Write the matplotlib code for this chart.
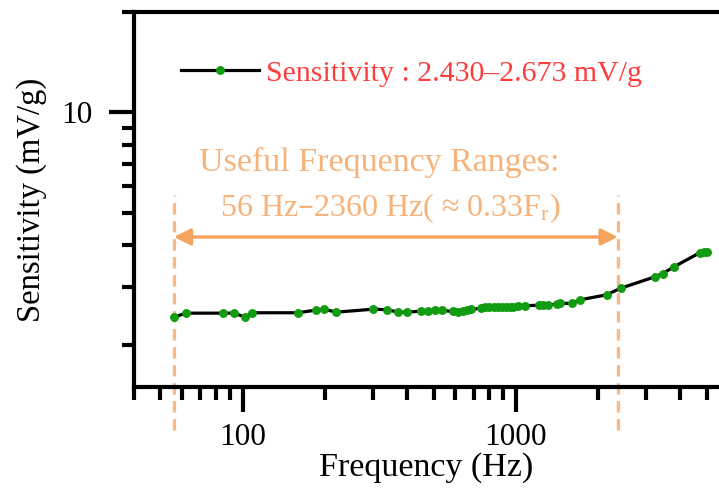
import matplotlib.pyplot as plt
from matplotlib.ticker import LogLocator, NullFormatter

plt.rcParams['font.family'] = ['Liberation Serif', 'DejaVu Serif']

# measured sensitivity vs. excitation frequency
freq = [56, 62, 85, 93, 102, 108, 159, 185, 198, 220, 301, 338, 371, 398,
        450, 477, 505, 538, 587, 612, 639, 663, 687, 743, 770, 800, 831,
        863, 889, 919, 953, 979, 1015, 1079, 1212, 1259, 1313, 1410, 1450,
        1598, 1716, 2148, 2418, 3229, 3446, 3792, 4721, 4883, 4995]
sens = [2.430, 2.498, 2.498, 2.498, 2.430, 2.505, 2.505, 2.550, 2.568,
        2.515, 2.568, 2.557, 2.515, 2.515, 2.533, 2.533, 2.545, 2.545,
        2.527, 2.515, 2.527, 2.545, 2.562, 2.585, 2.598, 2.610, 2.610,
        2.610, 2.610, 2.610, 2.610, 2.610, 2.616, 2.628, 2.639, 2.639,
        2.639, 2.660, 2.673, 2.673, 2.739, 2.835, 2.967, 3.211, 3.285,
        3.440, 3.797, 3.805, 3.805]

f_low, f_high = 56, 2360
series_label = 'Sensitivity : 2.430\u20132.673 mV/g'
range_title = 'Useful Frequency Ranges:'
range_text = '56 Hz\u20132360 Hz( \u2248 0.33$\\mathregular{F_r}$)'

orange = '#F5A35C'
orange_text = '#F7B27A'
orange_dash = '#F9B888'
red = '#FF3C3C'
green = '#129C12'

fig = plt.figure(figsize=(7.19, 4.88), dpi=100)
ax = fig.add_axes([0.1864, 0.207, 0.8136, 0.7684])

ax.plot(freq, sens, color='black', lw=2.3, marker='o', ms=5.4,
        mfc=green, mec=green, label=series_label, zorder=3)

ax.set_xscale('log')
ax.set_yscale('log')
ax.set_xlim(40, 5540)
ax.set_ylim(1.5, 20)

ax.set_xticks([100, 1000])
ax.set_xticklabels(['100', '1000'])
ax.xaxis.set_minor_locator(LogLocator(base=10, subs=range(2, 10)))
ax.xaxis.set_minor_formatter(NullFormatter())
ax.set_yticks([10])
ax.set_yticklabels(['10'])
ax.yaxis.set_minor_locator(LogLocator(base=10, subs=range(2, 10)))
ax.yaxis.set_minor_formatter(NullFormatter())

ax.spines['right'].set_visible(False)
for s in ('left', 'bottom', 'top'):
    ax.spines[s].set_linewidth(3)
ax.tick_params(which='major', direction='out', length=18, width=3,
               labelsize=22.5, pad=8)
ax.tick_params(which='minor', direction='out', length=9, width=3)
ax.tick_params(axis='y', which='major', pad=12)
ax.tick_params(top=False, right=False, which='both')

ax.set_xlabel('Frequency (Hz)', fontsize=24.5, labelpad=0)
ax.set_ylabel('Sensitivity (mV/g)', fontsize=23.5, labelpad=10)

# useful frequency range markers
for f in (f_low, f_high):
    ax.axvline(f, ymin=-0.115, ymax=0.512, clip_on=False, color=orange_dash,
               lw=2.4, dashes=(3.4, 2.0), zorder=2)

ax.annotate('', xy=(f_high, 0.4), xytext=(f_low, 0.4),
            xycoords=('data', 'axes fraction'),
            textcoords=('data', 'axes fraction'),
            arrowprops=dict(arrowstyle='<|-|>', color=orange, lw=2.4,
                            mutation_scale=25, shrinkA=0, shrinkB=0))
ax.text(0.419, 0.6, range_title, transform=ax.transAxes, ha='center',
        va='center', fontsize=24.5, color=orange_text)
ax.text(0.4376, 0.477, range_text, transform=ax.transAxes, ha='center',
        va='center', fontsize=23, color=orange_text)

ax.legend(loc='center left', bbox_to_anchor=(0.0803, 0.837), frameon=False,
          fontsize=21.5, handlelength=2.6, handletextpad=0.23,
          borderpad=0, borderaxespad=0, labelcolor=red)

fig.savefig('out.png', dpi=100)
